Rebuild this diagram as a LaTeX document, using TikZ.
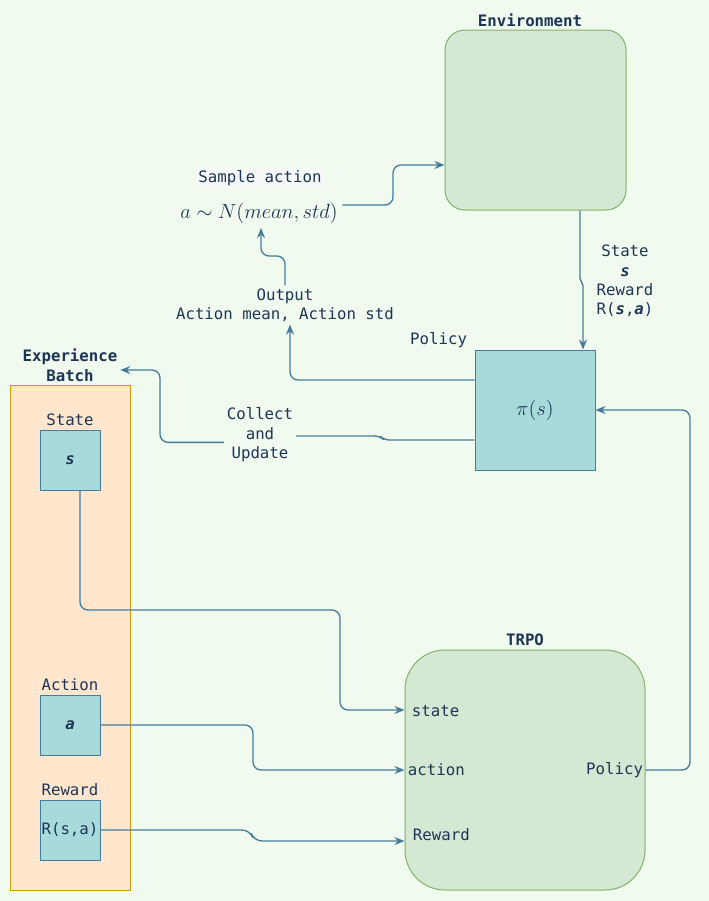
\RequirePackage{fix-cm}
\documentclass[tikz,border=0pt]{standalone}
\usepackage{fontspec}
\setmonofont{DejaVu Sans Mono}
\usetikzlibrary{arrows.meta}

\definecolor{bgmint}{HTML}{F1FAEE}
\definecolor{ink}{HTML}{1D3557}
\definecolor{wire}{HTML}{457B9D}
\definecolor{tealfill}{HTML}{A8DADC}
\definecolor{greenfill}{HTML}{D5E8D4}
\definecolor{greenline}{HTML}{82B366}
\definecolor{orangefill}{HTML}{FFE6CC}
\definecolor{orangeline}{HTML}{D79B00}
\definecolor{hilite}{HTML}{F7F9F9}

\tikzset{
    lbl/.style={font=\ttfamily\fontsize{11.8}{14.6}\selectfont, text=ink, inner sep=2pt},
    title/.style={lbl, font=\ttfamily\bfseries\fontsize{11.8}{14.6}\selectfont},
    mathtxt/.style={font=\fontsize{15.4}{17}\selectfont, text=ink},
    roundbox/.style={draw=greenline, fill=greenfill, line width=0.75pt, rounded corners=15pt},
    tealbox/.style={draw=wire, fill=tealfill, line width=0.75pt},
    conn/.style={draw=wire, line width=1pt, rounded corners=6pt, -{Stealth[length=7.5pt,width=6pt]}},
    wireonly/.style={draw=wire, line width=1pt, rounded corners=4pt}
}

\begin{document}
\begin{tikzpicture}[x=0.75pt, y=-0.75pt]
        % canvas
        \fill[bgmint] (0,0) rectangle (709,901);
        \useasboundingbox (0,0) rectangle (709,901);

        % environment
        \node[roundbox, minimum width=135.75pt, minimum height=135pt] (env) at (535.5,120) {};
        \node[title] (envlbl) at (530,20) {Environment};

        % action sampling
        \node[lbl, fill=hilite] (sample) at (260,178) {Sample action};
        \node[mathtxt] (dist) at (259,213) {$a\sim N(mean,std)$};

        % policy
        \node[tealbox, minimum size=90pt, mathtxt] (pol) at (535,410) {$\pi(s)$};
        \node[lbl, anchor=east] (pollbl) at (470,340) {Policy};
        \node[lbl, align=center] (obs) at (625,281)
            {State\\\textbf{\textit{s}}\\Reward\\R(\textbf{\textit{s}},\textbf{\textit{a}})};
        \node[lbl, align=center] (out) at (285,305) {Output\\Action mean, Action std};
        \node[lbl, align=center] (coll) at (260,435) {Collect\\and\\Update};

        % experience batch
        \node[title, align=center] (ebl) at (70,365) {Experience\\Batch};
        \node[draw=orangeline, fill=orangefill, line width=0.75pt,
              minimum width=90pt, minimum height=378.75pt] (batch) at (70,637.5) {};
        \node[tealbox, minimum size=45pt, lbl] (st) at (70,460) {\textbf{\textit{s}}};
        \node[lbl] (stlbl) at (70,420) {State};
        \node[tealbox, minimum size=45pt, lbl] (ac) at (70,725) {\textbf{\textit{a}}};
        \node[lbl] (aclbl) at (70,685) {Action};
        \node[tealbox, minimum size=45pt, lbl, inner sep=0pt] (rw) at (70,830) {R(s,a)};
        \node[lbl] (rwlbl) at (70,790) {Reward};

        % TRPO
        \node[roundbox, minimum size=180pt, rounded corners=30pt] (trpo) at (525,770) {};
        \node[title] (trpolbl) at (525,640) {TRPO};
        \node[lbl, anchor=west] (tin1) at (409,711) {state};
        \node[lbl, anchor=west] (tin2) at (405,770) {action};
        \node[lbl, anchor=west] (tin3) at (410,835) {Reward};
        \node[lbl, anchor=east] (tout) at (646,770) {Policy};

        % connectors
        \coordinate (d1) at (261,256);
        \draw[conn, rounded corners=1.5pt] ([xshift=33.4pt]env.south) -- ++(0,70) -- ++(3,3) -- ([xshift=36pt]pol.north);
        \draw[conn] ([yshift=6pt]dist.east) -- (393,205) -- (393,165) -- ([yshift=-33.75pt]env.west);
        \draw[conn] ([yshift=22.5pt]pol.west) -| ([xshift=3.75pt]out.south);
        \draw[conn] (out.north) |- (d1) -- (d1 |- dist.south);
        \draw[wireonly] ([yshift=-22.5pt]pol.west) -- (384,440) -- (380,436) -- ([yshift=-0.75pt]coll.east);
        \draw[conn] ([yshift=-5.5pt]coll.west) -| (160,370) -- ([yshift=-3.75pt]ebl.east);

        \draw[conn] ([xshift=7.5pt]st.south) |- (340,610) |- ([yshift=45pt]trpo.west);
        \draw[conn] (ac.east) -| (253,770) -- (trpo.west);
        \draw[conn] (rw.east) -- (250,830) -- (254,841) -- ([yshift=-53.25pt]trpo.west);
        \draw[conn] (trpo.east) -| (690,410) -- (pol.east);

\end{tikzpicture}
\end{document}
